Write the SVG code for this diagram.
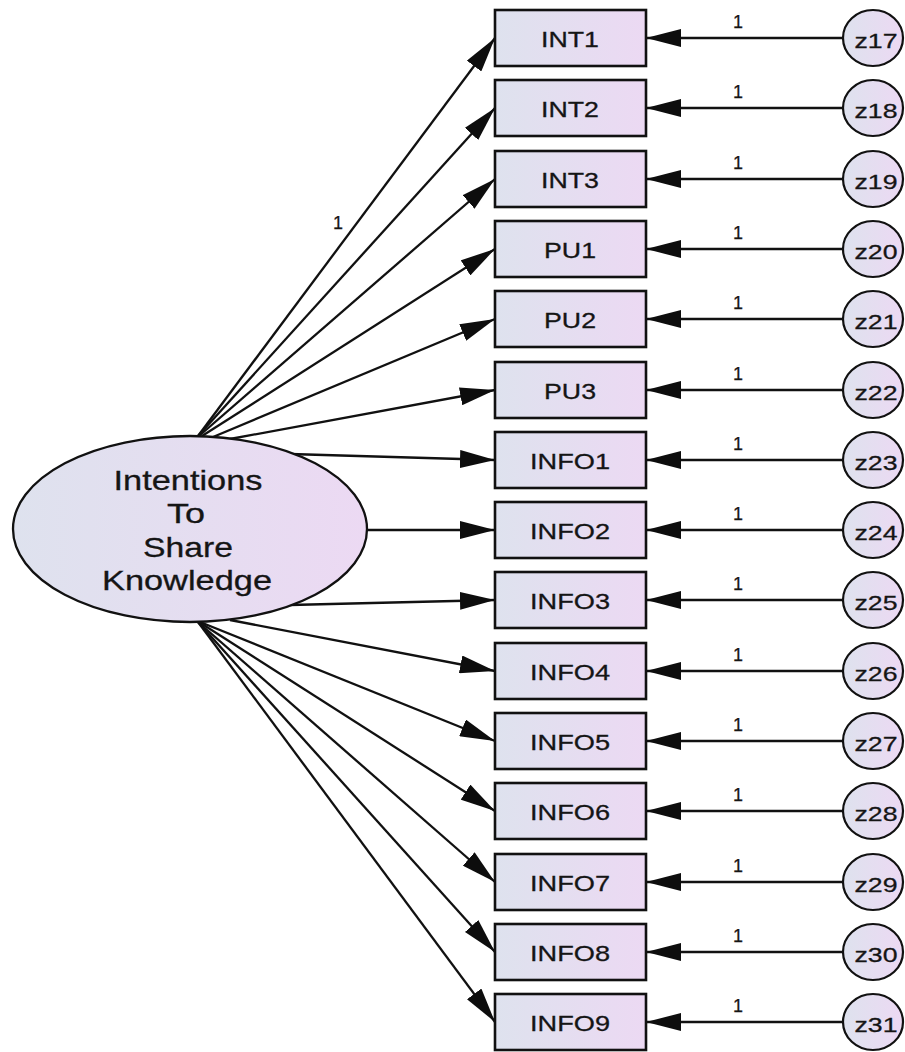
<svg xmlns="http://www.w3.org/2000/svg" width="905" height="1052" viewBox="0 0 905 1052">
  <defs>
    <linearGradient id="fillGrad" x1="0" y1="0" x2="1" y2="0">
      <stop offset="0" stop-color="#dee2ee"/>
      <stop offset="1" stop-color="#ecd9f3"/>
    </linearGradient>
    <marker id="arrow" markerUnits="userSpaceOnUse" markerWidth="35" markerHeight="18" viewBox="0 0 35 18" refX="35" refY="9" orient="auto">
      <path d="M0,0 L35,9 L0,18 Z" fill="#0d0d0d"/>
    </marker>
    <style>
      .box { fill: url(#fillGrad); stroke: #111; stroke-width: 2.6; }
      .lat { fill: url(#fillGrad); stroke: #111; stroke-width: 2.3; }
      .err { fill: url(#fillGrad); stroke: #111; stroke-width: 2.2; }
      text { font-family: "Liberation Sans", Arial, sans-serif; fill: #151515; text-anchor: middle; stroke: #151515; stroke-width: 0.3; }
      .lbl { font-size: 22px; }
      .big { font-size: 28px; }
      .zl { font-size: 21px; }
      .w { font-size: 18px; stroke-width: 0.25; }
      .path { stroke: #111; stroke-width: 2.3; fill: none; marker-end: url(#arrow); }
    </style>
  </defs>
  <rect width="905" height="1052" fill="#ffffff"/>

  <!-- connectors: factor loadings and error terms -->
  <g id="connectors">
    <line class="path" x1="198" y1="436" x2="495" y2="38"/>
    <line class="path" x1="198" y1="436" x2="495" y2="108"/>
    <line class="path" x1="199" y1="436" x2="495" y2="179"/>
    <line class="path" x1="202" y1="436" x2="495" y2="249"/>
    <line class="path" x1="213" y1="437" x2="495" y2="319"/>
    <line class="path" x1="230" y1="439" x2="495" y2="390"/>
    <line class="path" x1="290" y1="454" x2="495" y2="460"/>
    <line class="path" x1="367" y1="530" x2="495" y2="530"/>
    <line class="path" x1="290" y1="605" x2="495" y2="600"/>
    <line class="path" x1="230" y1="620" x2="495" y2="671"/>
    <line class="path" x1="200" y1="622" x2="495" y2="741"/>
    <line class="path" x1="199" y1="622" x2="495" y2="811"/>
    <line class="path" x1="198" y1="622" x2="495" y2="882"/>
    <line class="path" x1="198" y1="622" x2="495" y2="952"/>
    <line class="path" x1="198" y1="622" x2="495" y2="1022"/>
    <text class="w" x="338" y="229">1</text>

    <line class="path" x1="843" y1="38" x2="646" y2="38"/>
    <line class="path" x1="843" y1="108" x2="646" y2="108"/>
    <line class="path" x1="843" y1="179" x2="646" y2="179"/>
    <line class="path" x1="843" y1="249" x2="646" y2="249"/>
    <line class="path" x1="843" y1="319" x2="646" y2="319"/>
    <line class="path" x1="843" y1="390" x2="646" y2="390"/>
    <line class="path" x1="843" y1="460" x2="646" y2="460"/>
    <line class="path" x1="843" y1="530" x2="646" y2="530"/>
    <line class="path" x1="843" y1="600" x2="646" y2="600"/>
    <line class="path" x1="843" y1="671" x2="646" y2="671"/>
    <line class="path" x1="843" y1="741" x2="646" y2="741"/>
    <line class="path" x1="843" y1="811" x2="646" y2="811"/>
    <line class="path" x1="843" y1="882" x2="646" y2="882"/>
    <line class="path" x1="843" y1="952" x2="646" y2="952"/>
    <line class="path" x1="843" y1="1022" x2="646" y2="1022"/>
    <text class="w" x="738" y="28">1</text>
    <text class="w" x="738" y="98">1</text>
    <text class="w" x="738" y="169">1</text>
    <text class="w" x="738" y="239">1</text>
    <text class="w" x="738" y="309">1</text>
    <text class="w" x="738" y="380">1</text>
    <text class="w" x="738" y="450">1</text>
    <text class="w" x="738" y="520">1</text>
    <text class="w" x="738" y="590">1</text>
    <text class="w" x="738" y="661">1</text>
    <text class="w" x="738" y="731">1</text>
    <text class="w" x="738" y="801">1</text>
    <text class="w" x="738" y="872">1</text>
    <text class="w" x="738" y="942">1</text>
    <text class="w" x="738" y="1012">1</text>
  </g>

  <!-- latent construct -->
  <g id="intentions">
    <ellipse class="lat" cx="190" cy="529" rx="177" ry="93"/>
    <text class="big" x="188" y="490" textLength="149" lengthAdjust="spacingAndGlyphs">Intentions</text>
    <text class="big" x="186" y="523" textLength="38" lengthAdjust="spacingAndGlyphs">To</text>
    <text class="big" x="188" y="557" textLength="90" lengthAdjust="spacingAndGlyphs">Share</text>
    <text class="big" x="187" y="590" textLength="170" lengthAdjust="spacingAndGlyphs">Knowledge</text>
  </g>

  <!-- observed indicators -->
  <g id="INT1"><rect class="box" x="495" y="10" width="151" height="56"/><text class="lbl" x="570" y="47" textLength="58" lengthAdjust="spacingAndGlyphs">INT1</text></g>
  <g id="INT2"><rect class="box" x="495" y="80" width="151" height="56"/><text class="lbl" x="570" y="117" textLength="58" lengthAdjust="spacingAndGlyphs">INT2</text></g>
  <g id="INT3"><rect class="box" x="495" y="151" width="151" height="56"/><text class="lbl" x="570" y="188" textLength="58" lengthAdjust="spacingAndGlyphs">INT3</text></g>
  <g id="PU1"><rect class="box" x="495" y="221" width="151" height="56"/><text class="lbl" x="570" y="258" textLength="52" lengthAdjust="spacingAndGlyphs">PU1</text></g>
  <g id="PU2"><rect class="box" x="495" y="291" width="151" height="56"/><text class="lbl" x="570" y="328" textLength="52" lengthAdjust="spacingAndGlyphs">PU2</text></g>
  <g id="PU3"><rect class="box" x="495" y="362" width="151" height="56"/><text class="lbl" x="570" y="399" textLength="52" lengthAdjust="spacingAndGlyphs">PU3</text></g>
  <g id="INFO1"><rect class="box" x="495" y="432" width="151" height="56"/><text class="lbl" x="570" y="469" textLength="80" lengthAdjust="spacingAndGlyphs">INFO1</text></g>
  <g id="INFO2"><rect class="box" x="495" y="502" width="151" height="56"/><text class="lbl" x="570" y="539" textLength="80" lengthAdjust="spacingAndGlyphs">INFO2</text></g>
  <g id="INFO3"><rect class="box" x="495" y="572" width="151" height="56"/><text class="lbl" x="570" y="609" textLength="80" lengthAdjust="spacingAndGlyphs">INFO3</text></g>
  <g id="INFO4"><rect class="box" x="495" y="643" width="151" height="56"/><text class="lbl" x="570" y="680" textLength="80" lengthAdjust="spacingAndGlyphs">INFO4</text></g>
  <g id="INFO5"><rect class="box" x="495" y="713" width="151" height="56"/><text class="lbl" x="570" y="750" textLength="80" lengthAdjust="spacingAndGlyphs">INFO5</text></g>
  <g id="INFO6"><rect class="box" x="495" y="783" width="151" height="56"/><text class="lbl" x="570" y="820" textLength="80" lengthAdjust="spacingAndGlyphs">INFO6</text></g>
  <g id="INFO7"><rect class="box" x="495" y="854" width="151" height="56"/><text class="lbl" x="570" y="891" textLength="80" lengthAdjust="spacingAndGlyphs">INFO7</text></g>
  <g id="INFO8"><rect class="box" x="495" y="924" width="151" height="56"/><text class="lbl" x="570" y="961" textLength="80" lengthAdjust="spacingAndGlyphs">INFO8</text></g>
  <g id="INFO9"><rect class="box" x="495" y="994" width="151" height="56"/><text class="lbl" x="570" y="1031" textLength="80" lengthAdjust="spacingAndGlyphs">INFO9</text></g>

  <!-- error terms -->
  <g id="z17"><ellipse class="err" cx="873" cy="38" rx="30" ry="28"/><text class="zl" x="876" y="48" textLength="43" lengthAdjust="spacingAndGlyphs">z17</text></g>
  <g id="z18"><ellipse class="err" cx="873" cy="108" rx="30" ry="28"/><text class="zl" x="876" y="118" textLength="43" lengthAdjust="spacingAndGlyphs">z18</text></g>
  <g id="z19"><ellipse class="err" cx="873" cy="179" rx="30" ry="28"/><text class="zl" x="876" y="189" textLength="43" lengthAdjust="spacingAndGlyphs">z19</text></g>
  <g id="z20"><ellipse class="err" cx="873" cy="249" rx="30" ry="28"/><text class="zl" x="876" y="259" textLength="43" lengthAdjust="spacingAndGlyphs">z20</text></g>
  <g id="z21"><ellipse class="err" cx="873" cy="319" rx="30" ry="28"/><text class="zl" x="876" y="329" textLength="43" lengthAdjust="spacingAndGlyphs">z21</text></g>
  <g id="z22"><ellipse class="err" cx="873" cy="390" rx="30" ry="28"/><text class="zl" x="876" y="400" textLength="43" lengthAdjust="spacingAndGlyphs">z22</text></g>
  <g id="z23"><ellipse class="err" cx="873" cy="460" rx="30" ry="28"/><text class="zl" x="876" y="470" textLength="43" lengthAdjust="spacingAndGlyphs">z23</text></g>
  <g id="z24"><ellipse class="err" cx="873" cy="530" rx="30" ry="28"/><text class="zl" x="876" y="540" textLength="43" lengthAdjust="spacingAndGlyphs">z24</text></g>
  <g id="z25"><ellipse class="err" cx="873" cy="600" rx="30" ry="28"/><text class="zl" x="876" y="610" textLength="43" lengthAdjust="spacingAndGlyphs">z25</text></g>
  <g id="z26"><ellipse class="err" cx="873" cy="671" rx="30" ry="28"/><text class="zl" x="876" y="681" textLength="43" lengthAdjust="spacingAndGlyphs">z26</text></g>
  <g id="z27"><ellipse class="err" cx="873" cy="741" rx="30" ry="28"/><text class="zl" x="876" y="751" textLength="43" lengthAdjust="spacingAndGlyphs">z27</text></g>
  <g id="z28"><ellipse class="err" cx="873" cy="811" rx="30" ry="28"/><text class="zl" x="876" y="821" textLength="43" lengthAdjust="spacingAndGlyphs">z28</text></g>
  <g id="z29"><ellipse class="err" cx="873" cy="882" rx="30" ry="28"/><text class="zl" x="876" y="892" textLength="43" lengthAdjust="spacingAndGlyphs">z29</text></g>
  <g id="z30"><ellipse class="err" cx="873" cy="952" rx="30" ry="28"/><text class="zl" x="876" y="962" textLength="43" lengthAdjust="spacingAndGlyphs">z30</text></g>
  <g id="z31"><ellipse class="err" cx="873" cy="1022" rx="30" ry="28"/><text class="zl" x="876" y="1032" textLength="43" lengthAdjust="spacingAndGlyphs">z31</text></g>
</svg>
